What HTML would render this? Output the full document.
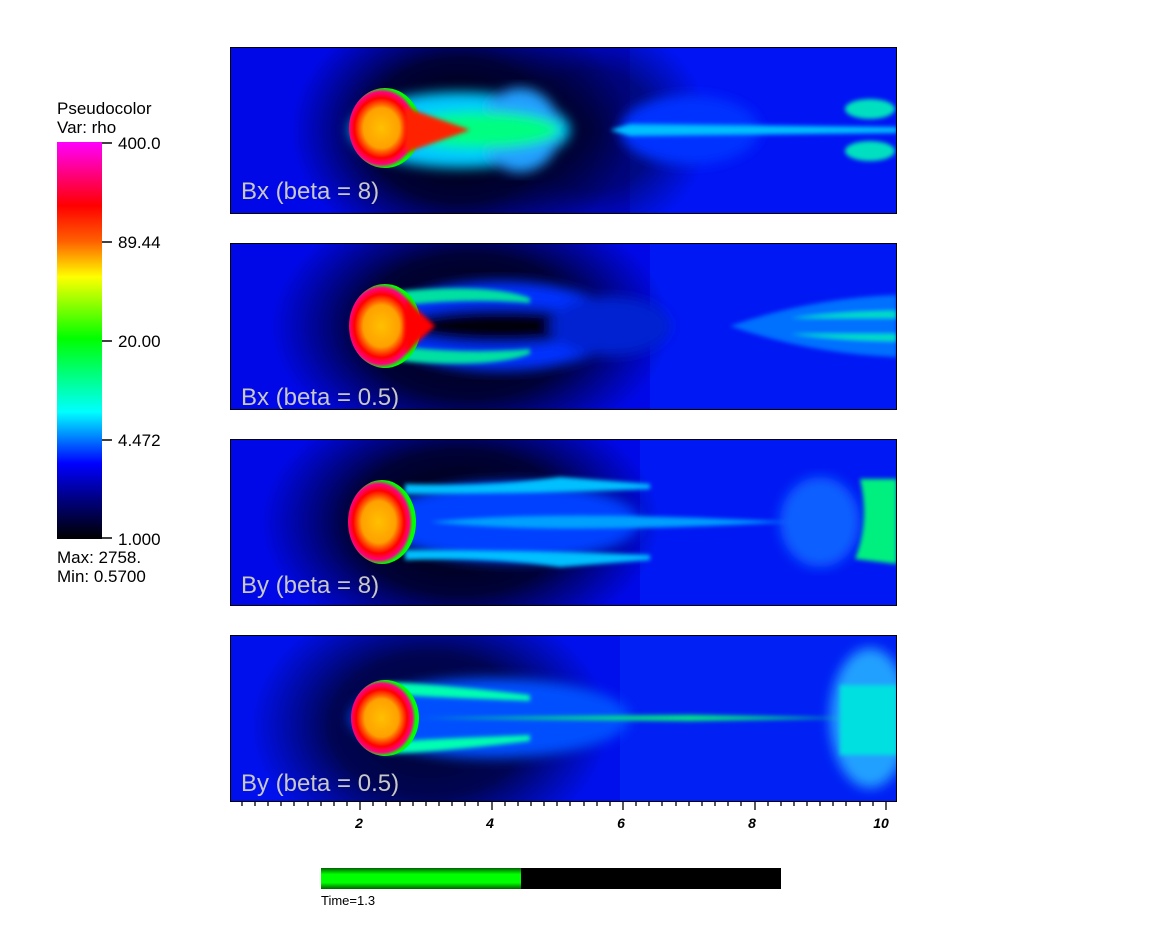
<!DOCTYPE html>
<html><head><meta charset="utf-8"><style>
html,body{margin:0;padding:0;background:#fff;}
svg{display:block;font-family:"Liberation Sans",sans-serif;}
</style></head><body>
<svg width="1149" height="943" viewBox="0 0 1149 943" xmlns="http://www.w3.org/2000/svg">
<defs>
<linearGradient id="cb" x1="0" y1="0" x2="0" y2="1">
<stop offset="0" stop-color="#ff00ff"/><stop offset="0.16" stop-color="#ff0000"/>
<stop offset="0.25" stop-color="#ff6000"/><stop offset="0.34" stop-color="#ffff00"/>
<stop offset="0.495" stop-color="#00ff00"/><stop offset="0.68" stop-color="#00ffff"/>
<stop offset="0.81" stop-color="#0000ff"/><stop offset="0.9" stop-color="#000080"/>
<stop offset="1" stop-color="#000000"/></linearGradient>
<linearGradient id="tg" x1="0" y1="0" x2="0" y2="1">
<stop offset="0" stop-color="#006000"/><stop offset="0.3" stop-color="#00ff00"/>
<stop offset="0.7" stop-color="#00ff00"/><stop offset="1" stop-color="#006000"/></linearGradient>
<radialGradient id="dark" cx="0.5" cy="0.5" r="0.5">
<stop offset="0" stop-color="#000" stop-opacity="1"/><stop offset="0.55" stop-color="#000018" stop-opacity="0.85"/>
<stop offset="1" stop-color="#000030" stop-opacity="0"/></radialGradient>
<radialGradient id="head" cx="0.45" cy="0.5" r="0.5">
<stop offset="0" stop-color="#ffc000"/><stop offset="0.5" stop-color="#ffa000"/>
<stop offset="0.75" stop-color="#ff0000"/><stop offset="0.9" stop-color="#ff0080"/>
<stop offset="1" stop-color="#00ff00"/></radialGradient>
<filter id="b2"><feGaussianBlur stdDeviation="2"/></filter>
<filter id="b6"><feGaussianBlur stdDeviation="6"/></filter>
<clipPath id="cp"><rect x="0" y="0" width="667" height="167"/></clipPath>
</defs>

<text x="57" y="114" font-size="17">Pseudocolor</text>
<text x="57" y="133" font-size="17">Var: rho</text>
<rect x="57" y="142" width="45" height="397" fill="url(#cb)"/>
<g stroke="#000" stroke-width="1.5">
<line x1="102" y1="143" x2="112" y2="143"/><line x1="102" y1="242" x2="112" y2="242"/>
<line x1="102" y1="341" x2="112" y2="341"/><line x1="102" y1="440" x2="112" y2="440"/>
<line x1="102" y1="538" x2="112" y2="538"/></g>
<g font-size="17"><text x="118" y="149">400.0</text><text x="118" y="248">89.44</text>
<text x="118" y="347">20.00</text><text x="118" y="446">4.472</text><text x="118" y="545">1.000</text>
<text x="57" y="563">Max:  2758.</text><text x="57" y="582">Min:  0.5700</text></g>

<g transform="translate(230,47)" clip-path="url(#cp)">
<rect width="667" height="167" fill="#0008e8"/>
<rect x="400" width="267" height="167" fill="#0014f4"/>
<ellipse cx="230" cy="83" rx="170" ry="130" fill="url(#dark)"/>
<ellipse cx="360" cy="83" rx="120" ry="110" fill="url(#dark)" opacity="0.6"/>
<g filter="url(#b6)"><ellipse cx="230" cy="83" rx="110" ry="38" fill="#00c8ff"/>
<ellipse cx="290" cy="83" rx="40" ry="42" fill="#20a0ff"/>
<ellipse cx="250" cy="83" rx="80" ry="18" fill="#00ff80"/>
<ellipse cx="460" cy="83" rx="70" ry="35" fill="#0030ff"/></g>
<g filter="url(#b2)"><polygon points="380,83 400,77 667,80 667,86 400,89" fill="#00c0ff"/>
<ellipse cx="640" cy="62" rx="25" ry="10" fill="#00e0c0"/><ellipse cx="640" cy="104" rx="25" ry="10" fill="#00e0c0"/></g>
<ellipse cx="155" cy="81" rx="36" ry="40" fill="url(#head)"/>
<polygon points="175,60 240,83 175,106" fill="#ff2000" filter="url(#b2)"/>
<text x="11" y="152" font-size="24" fill="#c8c8c8">Bx (beta = 8)</text>
</g>
<rect x="230.5" y="47.5" width="666" height="166" fill="none" stroke="#000"/>

<g transform="translate(230,243)" clip-path="url(#cp)">
<rect width="667" height="167" fill="#0008e8"/>
<rect x="420" width="247" height="167" fill="#0018f4"/>
<ellipse cx="240" cy="83" rx="200" ry="130" fill="url(#dark)"/>
<g filter="url(#b6)"><ellipse cx="270" cy="83" rx="120" ry="45" fill="#0030ff"/>
<ellipse cx="270" cy="83" rx="100" ry="18" fill="#000010"/>
<ellipse cx="380" cy="83" rx="60" ry="30" fill="#0020d0"/></g>
<g filter="url(#b2)"><path d="M170,48 Q260,40 300,55 L300,60 Q240,55 175,62Z" fill="#00e0a0"/>
<path d="M170,118 Q260,126 300,111 L300,106 Q240,111 175,104Z" fill="#00e0a0"/>
<path d="M500,83 Q580,55 667,52 L667,114 Q580,111 500,83Z" fill="#0070ff"/>
<path d="M560,75 Q620,68 667,68 L667,75 Z" fill="#00e0c0"/><path d="M560,91 Q620,98 667,98 L667,91 Z" fill="#00e0c0"/></g>
<ellipse cx="155" cy="83" rx="36" ry="42" fill="url(#head)"/>
<polygon points="175,55 205,83 175,111" fill="#ff0000" filter="url(#b2)"/>
<text x="11" y="162" font-size="24" fill="#c8c8c8">Bx (beta = 0.5)</text>
</g>
<rect x="230.5" y="243.5" width="666" height="166" fill="none" stroke="#000"/>

<g transform="translate(230,439)" clip-path="url(#cp)">
<rect width="667" height="167" fill="#0008e8"/>
<rect x="410" width="257" height="167" fill="#0018f4"/>
<ellipse cx="230" cy="83" rx="200" ry="130" fill="url(#dark)"/>
<g filter="url(#b6)"><ellipse cx="280" cy="83" rx="130" ry="40" fill="#0040ff"/>
<ellipse cx="590" cy="83" rx="40" ry="45" fill="#1060ff"/></g>
<g filter="url(#b2)"><path d="M175,45 Q260,48 330,38 L420,45 L420,50 Q300,55 175,55Z" fill="#00c0ff"/>
<path d="M175,121 Q260,118 330,128 L420,121 L420,116 Q300,111 175,111Z" fill="#00c0ff"/>
<path d="M200,83 Q320,70 560,83 Q320,96 200,83Z" fill="#00a0ff"/>
<path d="M630,40 Q640,83 625,120 L667,125 L667,40Z" fill="#00f080"/></g>
<ellipse cx="152" cy="83" rx="34" ry="42" fill="url(#head)"/>
<text x="11" y="154" font-size="24" fill="#c8c8c8">By (beta = 8)</text>
</g>
<rect x="230.5" y="439.5" width="666" height="166" fill="none" stroke="#000"/>

<g transform="translate(230,635)" clip-path="url(#cp)">
<rect width="667" height="167" fill="#0010ec"/>
<rect x="390" width="277" height="167" fill="#0020f4"/>
<ellipse cx="200" cy="90" rx="180" ry="130" fill="url(#dark)" opacity="0.85"/>
<g filter="url(#b6)"><ellipse cx="260" cy="83" rx="140" ry="40" fill="#0050ff"/>
<ellipse cx="640" cy="83" rx="40" ry="70" fill="#20a0ff"/></g>
<g filter="url(#b2)"><path d="M150,47 Q200,48 300,60 L300,66 Q200,62 170,60Z" fill="#00ffb0"/>
<path d="M150,119 Q200,118 300,106 L300,100 Q200,104 170,106Z" fill="#00ffb0"/>
<path d="M190,83 L460,80 L620,83 L460,86Z" fill="#00f080"/>
<rect x="610" y="50" width="57" height="70" fill="#00e0e0"/></g>
<ellipse cx="155" cy="83" rx="34" ry="38" fill="url(#head)"/>
<text x="11" y="156" font-size="24" fill="#c8c8c8">By (beta = 0.5)</text>
</g>
<rect x="230.5" y="635.5" width="666" height="166" fill="none" stroke="#000"/>

<g stroke="#000" stroke-width="1.3">
<line x1="242" y1="802" x2="242" y2="806"/><line x1="255" y1="802" x2="255" y2="806"/><line x1="268" y1="802" x2="268" y2="806"/><line x1="281" y1="802" x2="281" y2="806"/><line x1="294" y1="802" x2="294" y2="806"/><line x1="308" y1="802" x2="308" y2="806"/><line x1="321" y1="802" x2="321" y2="806"/><line x1="334" y1="802" x2="334" y2="806"/><line x1="347" y1="802" x2="347" y2="806"/><line x1="360" y1="802" x2="360" y2="810"/>
<line x1="373" y1="802" x2="373" y2="806"/><line x1="386" y1="802" x2="386" y2="806"/><line x1="400" y1="802" x2="400" y2="806"/><line x1="413" y1="802" x2="413" y2="806"/><line x1="426" y1="802" x2="426" y2="806"/><line x1="439" y1="802" x2="439" y2="806"/><line x1="452" y1="802" x2="452" y2="806"/><line x1="465" y1="802" x2="465" y2="806"/><line x1="478" y1="802" x2="478" y2="806"/><line x1="492" y1="802" x2="492" y2="810"/>
<line x1="505" y1="802" x2="505" y2="806"/><line x1="518" y1="802" x2="518" y2="806"/><line x1="531" y1="802" x2="531" y2="806"/><line x1="544" y1="802" x2="544" y2="806"/><line x1="557" y1="802" x2="557" y2="806"/><line x1="570" y1="802" x2="570" y2="806"/><line x1="584" y1="802" x2="584" y2="806"/><line x1="597" y1="802" x2="597" y2="806"/><line x1="610" y1="802" x2="610" y2="806"/><line x1="623" y1="802" x2="623" y2="810"/>
<line x1="636" y1="802" x2="636" y2="806"/><line x1="649" y1="802" x2="649" y2="806"/><line x1="662" y1="802" x2="662" y2="806"/><line x1="676" y1="802" x2="676" y2="806"/><line x1="689" y1="802" x2="689" y2="806"/><line x1="702" y1="802" x2="702" y2="806"/><line x1="715" y1="802" x2="715" y2="806"/><line x1="728" y1="802" x2="728" y2="806"/><line x1="741" y1="802" x2="741" y2="806"/><line x1="755" y1="802" x2="755" y2="810"/>
<line x1="768" y1="802" x2="768" y2="806"/><line x1="781" y1="802" x2="781" y2="806"/><line x1="794" y1="802" x2="794" y2="806"/><line x1="807" y1="802" x2="807" y2="806"/><line x1="820" y1="802" x2="820" y2="806"/><line x1="833" y1="802" x2="833" y2="806"/><line x1="846" y1="802" x2="846" y2="806"/><line x1="860" y1="802" x2="860" y2="806"/><line x1="873" y1="802" x2="873" y2="806"/><line x1="886" y1="802" x2="886" y2="810"/>
</g>
<g font-size="14" font-weight="bold" font-style="italic" text-anchor="middle">
<text x="359" y="828">2</text><text x="490" y="828">4</text><text x="621" y="828">6</text><text x="752" y="828">8</text><text x="881" y="828">10</text></g>

<rect x="321" y="868" width="200" height="21" fill="url(#tg)"/>
<rect x="521" y="868" width="260" height="21" fill="#000"/>
<text x="321" y="905" font-size="13">Time=1.3</text>
</svg>
</body></html>
